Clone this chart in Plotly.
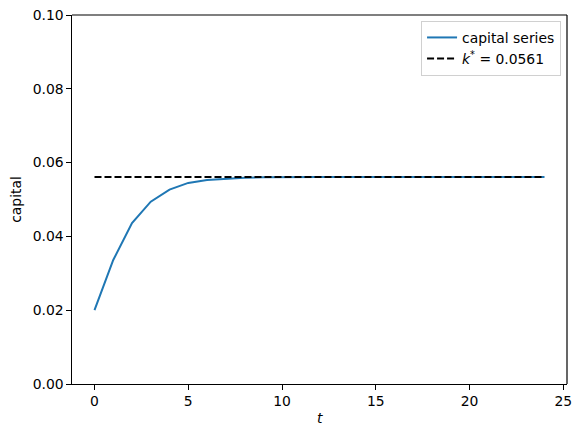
import plotly.graph_objects as go

t_values = list(range(25))
capital = [0.0200, 0.0336, 0.0436, 0.0494, 0.0527, 0.0545, 0.0553, 0.0557, 0.0559, 0.0560,
           0.0561, 0.0561, 0.0561, 0.0561, 0.0561, 0.0561, 0.0561, 0.0561, 0.0561, 0.0561,
           0.0561, 0.0561, 0.0561, 0.0561, 0.0561]
k_star = 0.0561
x_ticks = [0, 5, 10, 15, 20, 25]
y_ticks = [0.00, 0.02, 0.04, 0.06, 0.08, 0.10]

FS = 13.9
fig = go.Figure()
fig.add_trace(go.Scatter(x=t_values, y=capital, mode="lines", name="capital series",
                         line=dict(color="#1f77b4", width=2)))
fig.add_trace(go.Scatter(x=[t_values[0], t_values[-1]], y=[k_star, k_star], mode="lines",
                         name="<i>k</i><sup>*</sup> = %.4f" % k_star,
                         line=dict(color="black", width=2, dash="7px,3px")))

axis_common = dict(showline=True, linecolor="black", linewidth=1.2, mirror=False,
                   ticks="outside", ticklen=4.5, tickwidth=1.1, tickcolor="black",
                   showgrid=False, zeroline=False, ticklabeloverflow="allow",
                   automargin=False,
                   tickfont=dict(family="DejaVu Sans", size=FS, color="black"))

fig.update_layout(
    width=573, height=429,
    margin=dict(l=64, r=14, t=7, b=53),
    paper_bgcolor="white", plot_bgcolor="white",
    font=dict(family="DejaVu Sans", size=FS, color="black"),
    xaxis=dict(range=[-1.2, 25.2], tickvals=x_ticks, ticktext=[str(v) for v in x_ticks],
               **axis_common),
    yaxis=dict(range=[0, 0.1], tickvals=y_ticks, ticktext=["%.2f" % v for v in y_ticks],
               title=dict(text="capital", font=dict(size=FS)), **axis_common),
    legend=dict(x=0.988, y=0.984, xanchor="right", yanchor="top",
                bgcolor="rgba(255,255,255,0.8)", bordercolor="#d0d0d0", borderwidth=1,
                font=dict(family="DejaVu Sans", size=FS), tracegroupgap=0),
    showlegend=True,
    annotations=[dict(text="<i>t</i>", xref="paper", yref="paper", x=0.5, y=-0.092,
                      xanchor="center", yanchor="middle", showarrow=False,
                      font=dict(family="DejaVu Sans", size=FS, color="black"))],
    shapes=[
        dict(type="line", xref="paper", yref="paper", x0=0, x1=1, y0=1, y1=1,
             line=dict(color="black", width=1.2), layer="above"),
        dict(type="line", xref="paper", yref="paper", x0=1, x1=1, y0=0, y1=1,
             line=dict(color="black", width=1.2), layer="above"),
    ],
)

fig.write_html("out.html")
